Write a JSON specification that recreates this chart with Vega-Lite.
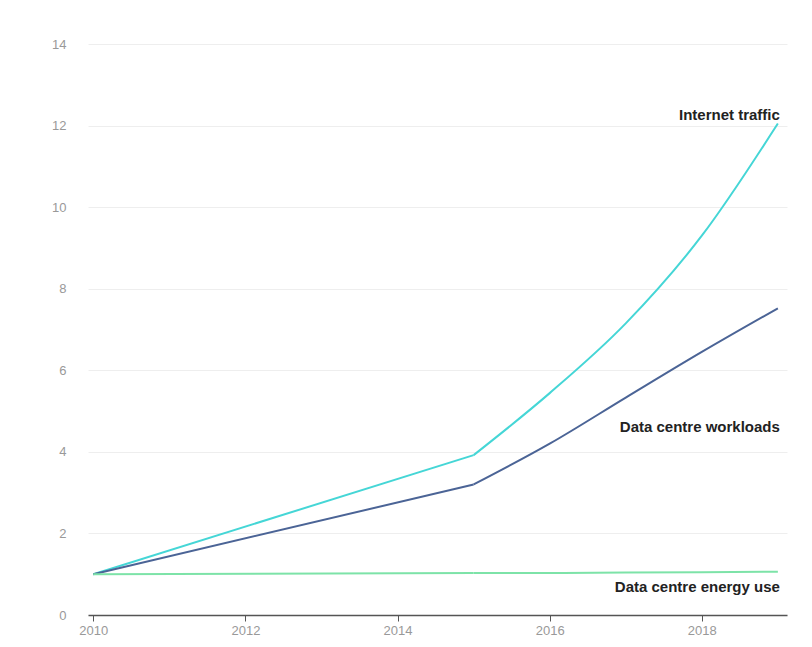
{
  "$schema": "https://vega.github.io/schema/vega-lite/v6.json",
  "width": 699,
  "height": 571,
  "autosize": "none",
  "padding": {"left": 88, "top": 44, "right": 25, "bottom": 32},
  "background": "white",
  "datasets": {
    "trends": [
      {"year": 2010, "value": 1.0, "series": "Internet traffic"},
      {"year": 2015, "value": 3.92, "series": "Internet traffic"},
      {"year": 2016, "value": 5.44, "series": "Internet traffic"},
      {"year": 2017, "value": 7.15, "series": "Internet traffic"},
      {"year": 2018, "value": 9.3, "series": "Internet traffic"},
      {"year": 2019, "value": 12.05, "series": "Internet traffic"},
      {"year": 2010, "value": 1.0, "series": "Data centre workloads"},
      {"year": 2015, "value": 3.2, "series": "Data centre workloads"},
      {"year": 2016, "value": 4.2, "series": "Data centre workloads"},
      {"year": 2017, "value": 5.33, "series": "Data centre workloads"},
      {"year": 2018, "value": 6.45, "series": "Data centre workloads"},
      {"year": 2019, "value": 7.52, "series": "Data centre workloads"},
      {"year": 2010, "value": 1.0, "series": "Data centre energy use"},
      {"year": 2015, "value": 1.03, "series": "Data centre energy use"},
      {"year": 2016, "value": 1.03, "series": "Data centre energy use"},
      {"year": 2017, "value": 1.04, "series": "Data centre energy use"},
      {"year": 2018, "value": 1.05, "series": "Data centre energy use"},
      {"year": 2019, "value": 1.06, "series": "Data centre energy use"}
    ],
    "labels": [
      {"year": 2019, "value": 12.25, "label": "Internet traffic"},
      {"year": 2019, "value": 4.6, "label": "Data centre workloads"},
      {"year": 2019, "value": 0.69, "label": "Data centre energy use"}
    ]
  },
  "layer": [
    {
      "data": {"name": "trends"},
      "encoding": {
        "x": {
          "field": "year",
          "type": "quantitative",
          "scale": {"domain": [2009.93, 2019.12], "nice": false, "zero": false},
          "axis": {
            "title": null,
            "values": [2010, 2012, 2014, 2016, 2018],
            "format": "d",
            "grid": false,
            "domainColor": "#555555",
            "domainWidth": 1.5,
            "tickColor": "#555555",
            "tickSize": 6,
            "labelColor": "#999999",
            "labelFontSize": 13,
            "labelFont": "Liberation Sans",
            "labelPadding": 3
          }
        },
        "y": {
          "field": "value",
          "type": "quantitative",
          "scale": {"domain": [0, 14], "nice": false},
          "axis": {
            "title": null,
            "values": [0, 2, 4, 6, 8, 10, 12, 14],
            "grid": true,
            "gridColor": "#eeeeee",
            "domain": false,
            "ticks": false,
            "labelColor": "#999999",
            "labelFontSize": 13,
            "labelFont": "Liberation Sans",
            "labelPadding": 22
          }
        },
        "color": {
          "field": "series",
          "type": "nominal",
          "scale": {
            "domain": ["Data centre energy use", "Data centre workloads", "Internet traffic"],
            "range": ["#7de3a8", "#4b6496", "#45d6d6"]
          },
          "legend": null
        }
      },
      "layer": [
        {
          "transform": [{"filter": "datum.year <= 2015"}],
          "mark": {"type": "line", "strokeWidth": 2}
        },
        {
          "transform": [{"filter": "datum.year >= 2015"}],
          "mark": {"type": "line", "strokeWidth": 2, "interpolate": "monotone"}
        }
      ]
    },
    {
      "data": {"name": "labels"},
      "mark": {
        "type": "text",
        "align": "right",
        "baseline": "middle",
        "dx": 2,
        "font": "Liberation Sans",
        "fontSize": 15,
        "fontWeight": "bold",
        "color": "#222222"
      },
      "encoding": {
        "x": {"field": "year", "type": "quantitative"},
        "y": {"field": "value", "type": "quantitative"},
        "text": {"field": "label"}
      }
    }
  ],
  "config": {"view": {"stroke": null}}
}
